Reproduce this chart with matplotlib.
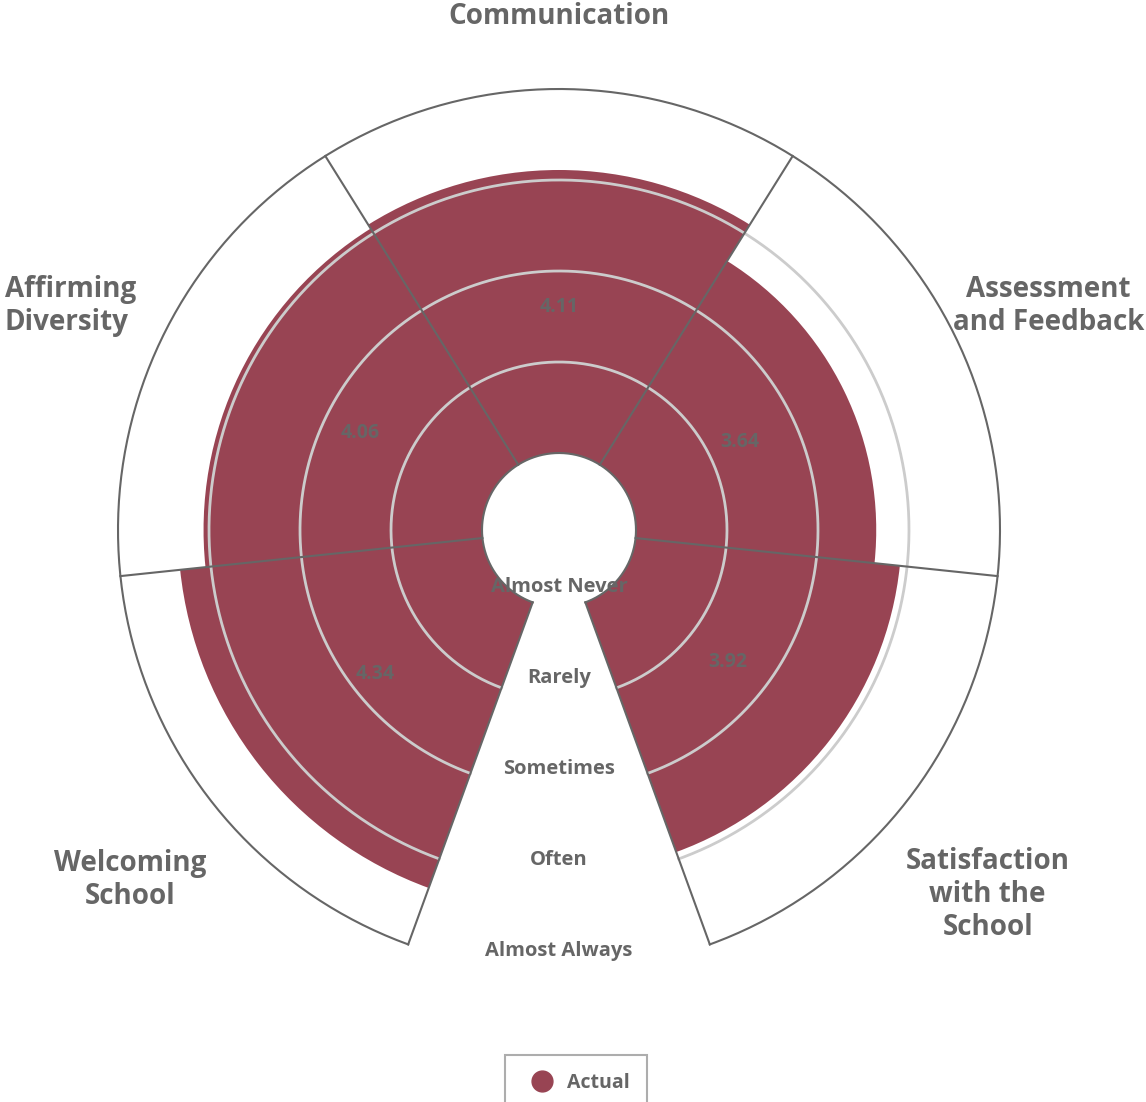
import numpy as np
import matplotlib
matplotlib.use("Agg")
import matplotlib.pyplot as plt
from matplotlib.lines import Line2D

# survey scores per category (1 = Almost Never ... 5 = Almost Always)
categories = ["Communication", "Assessment\nand Feedback", "Satisfaction\nwith the\nSchool",
              "Welcoming\nSchool", "Affirming\nDiversity"]
scores = [4.11, 3.64, 3.92, 4.34, 4.06]
scale_labels = ["Almost Never", "Rarely", "Sometimes", "Often", "Almost Always"]
scale_values = [1, 2, 3, 4, 5]

bar_color = "#984453"
dark = "#666666"
light = "#cccccc"

plt.rcParams['font.family'] = ['Open Sans', 'DejaVu Sans']

fig = plt.figure(figsize=(11.46, 11.02), dpi=100)
ax = fig.add_axes([118 / 1146, 131 / 1102, 882 / 1146, 882 / 1102], projection="polar")
ax.set_theta_zero_location("N")
ax.set_theta_direction(-1)
ax.set_ylim(1, 5)
ax.set_rorigin(0.154)
ax.set_axis_off()

# five sectors of 64 degrees, leaving a 40 degree gap at the bottom
width = np.radians(64)
centers = np.radians([0, 64, 128, 232, 296])
ax.bar(centers, np.array(scores) - 1, width=width, bottom=1, color=bar_color,
       edgecolor="none", zorder=2)

arc = np.radians(np.linspace(-160, 160, 400))
for v in scale_values[1:-1]:
    ax.plot(arc, np.full_like(arc, v), color=light, lw=2, zorder=3)
ax.plot(arc, np.full_like(arc, 1), color=dark, lw=1.5, zorder=4, clip_on=False)
ax.plot(arc, np.full_like(arc, 5), color=dark, lw=1.5, zorder=4, clip_on=False)
for b in [-160, -96, -32, 32, 96, 160]:
    ax.plot([np.radians(b)] * 2, [1, 5], color=dark, lw=1.5, zorder=4, clip_on=False)

# value labels in the middle of each bar
for c, s in zip(centers, scores):
    ax.text(c, (1 + s) / 2 + 0.05, f"{s:.2f}", ha="center", va="center",
            fontsize=14, fontweight="bold", color=dark, zorder=5)

# scale labels down the gap
for v, lab in zip(scale_values, scale_labels):
    ax.text(np.pi, v - 0.22, lab, ha="center", va="center", fontsize=14.5,
            fontweight="bold", color=dark, zorder=5)

# category labels around the outside
label_pos = [(0, 5.80, "center"), (65.4, 6.07, "center"), (130.4, 6.34, "center"),
             (230.8, 6.24, "center"), (292.0, 6.72, "left")]
for (ang, r, ha), name in zip(label_pos, categories):
    ax.text(np.radians(ang), r, name, ha=ha, va="center", fontsize=20,
            fontweight="bold", color=dark, linespacing=1.18, clip_on=False)

handle = Line2D([], [], marker="o", color="none", markerfacecolor=bar_color,
                markeredgecolor=bar_color, markersize=15)
leg = fig.legend([handle], ["Actual"], loc="upper center", bbox_to_anchor=(576 / 1146, 1 - 1055 / 1102),
                 frameon=True, fancybox=False, edgecolor="#999999", borderpad=0.9,
                 borderaxespad=0, handletextpad=0.3, prop={"weight": "bold", "size": 14})
leg.get_frame().set_linewidth(1.5)
for t in leg.get_texts():
    t.set_color(dark)

fig.savefig("out.png", dpi=100)
